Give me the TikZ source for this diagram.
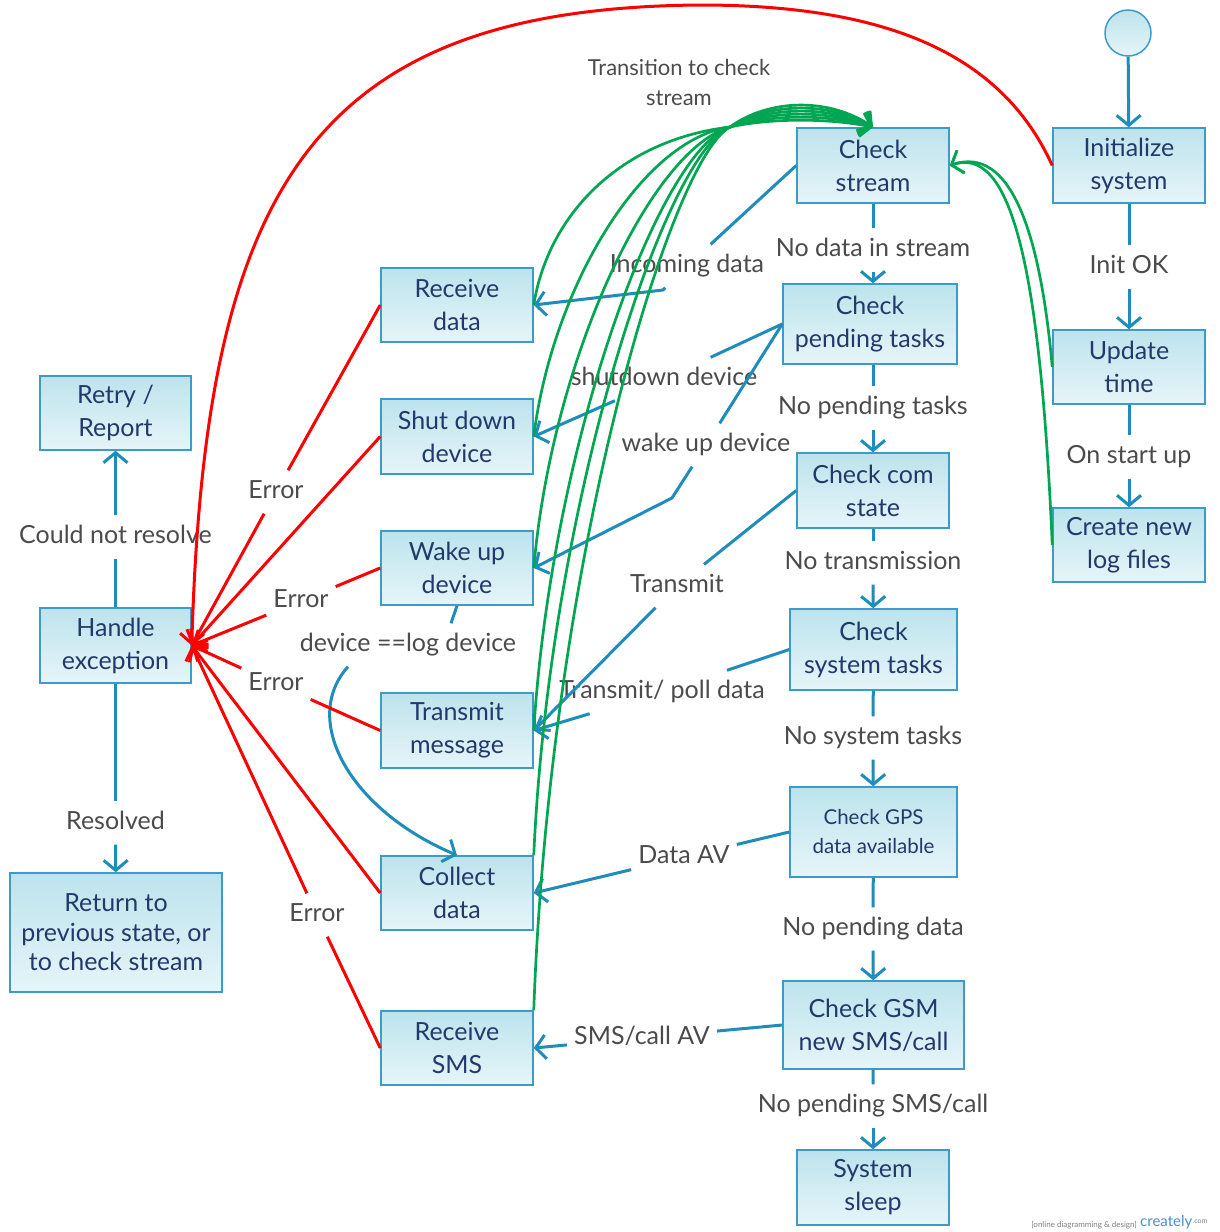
\documentclass[tikz,border=0pt]{standalone}
\usepackage{fontspec}
\setmainfont{Lato}
\usetikzlibrary{arrows.meta}

\definecolor{boxline}{HTML}{3C9BC7}
\definecolor{flow}{HTML}{1F8DBC}
\definecolor{boxtop}{HTML}{BDE3EC}
\definecolor{boxbot}{HTML}{E6F5F9}
\definecolor{nodetext}{HTML}{23396C}
\definecolor{labeltext}{HTML}{4B4B4B}
\definecolor{errred}{HTML}{FF0000}
\definecolor{backgreen}{HTML}{00A651}
\definecolor{brandblue}{HTML}{4A90D0}

\tikzset{
  state/.style={draw=boxline, line width=1.5pt, top color=boxtop, bottom color=boxbot,
    text=nodetext, align=center, inner sep=0pt, font=\fontsize{25}{33}\selectfont},
  elab/.style={text=labeltext, font=\fontsize{25}{29}\selectfont,
    inner xsep=7pt, inner ysep=10pt, text height=18pt, text depth=5pt},
  flowline/.style={draw=flow, line width=3pt},
  flowarrow/.style={flowline, -{Straight Barb[length=10pt,width=24pt]}},
  errline/.style={draw=errred, line width=3pt},
  errarrow/.style={errline, -{Straight Barb[length=10pt,width=24pt]}},
  backarrow/.style={draw=backgreen, line width=2.7pt, -{Straight Barb[length=10pt,width=24pt]}},
}

\begin{document}
\begin{tikzpicture}[x=1pt,y=-1pt]
\fill[white, use as bounding box] (0,0) rectangle (1219,1232);

% start point and initialisation chain
\node[circle, draw=boxline, line width=1.5pt, top color=boxtop, bottom color=boxbot,
      minimum size=46pt, inner sep=0pt] (start) at (1128,33) {};
\node[state, minimum width=152pt, minimum height=75pt] (init) at (1129,165.5) {Initialize\\system};
\node[state, minimum width=152pt, minimum height=74pt] (upd) at (1129,367) {Update\\time};
\node[state, minimum width=152pt, minimum height=74pt] (logs) at (1129,545) {Create new\\log files};

% main polling loop
\node[state, minimum width=152pt, minimum height=75pt] (cs) at (873,165.5) {Check\\stream};
\node[state, minimum width=174pt, minimum height=80pt] (cpt) at (870,324) {Check\\pending tasks};
\node[state, minimum width=152pt, minimum height=75pt] (ccs) at (873,490.5) {Check com\\state};
\node[state, minimum width=167pt, minimum height=81pt] (cst) at (873.5,649.5) {Check\\system tasks};
\node[state, minimum width=167pt, minimum height=90pt, font=\fontsize{20.5}{29}\selectfont] (gps) at (873.5,832) {Check GPS\\data available};
\node[state, minimum width=181pt, minimum height=88pt] (gsm) at (873.5,1025) {Check GSM\\new SMS/call};
\node[state, minimum width=152pt, minimum height=75pt] (sleep) at (873,1187.5) {System\\sleep};

% actions
\node[state, minimum width=152pt, minimum height=74pt] (rd) at (457,305) {Receive\\data};
\node[state, minimum width=152pt, minimum height=75pt] (sd) at (457,436.5) {Shut down\\device};
\node[state, minimum width=152pt, minimum height=74pt] (wu) at (457,568) {Wake up\\device};
\node[state, minimum width=152pt, minimum height=75pt] (tm) at (457,730.5) {Transmit\\message};
\node[state, minimum width=152pt, minimum height=74pt] (co) at (457,893) {Collect\\data};
\node[state, minimum width=152pt, minimum height=74pt] (rs) at (457,1048) {Receive\\SMS};

% exception handling
\node[state, minimum width=151pt, minimum height=74pt] (retry) at (115.5,413) {Retry /\\Report};
\node[state, minimum width=151pt, minimum height=75pt] (he) at (115.5,645.5) {Handle\\exception};
\node[state, minimum width=212pt, minimum height=119pt, font=\fontsize{25}{29.5}\selectfont] (ret) at (116,932.5) {Return to\\previous state, or\\to check stream};

% connector labels
\node[elab] (lInit) at (1129,267) {Init OK};
\node[elab] (lStart) at (1129,457) {On start up};
\node[elab] (lNoData) at (873,250) {No data in stream};
\node[elab] (lNoPend) at (873,408) {No pending tasks};
\node[elab] (lNoTx) at (873,563) {No transmission};
\node[elab] (lNoSys) at (873,738) {No system tasks};
\node[elab] (lNoPD) at (873,929) {No pending data};
\node[elab] (lNoSMS) at (873,1106) {No pending SMS/call};
\node[elab] (lIncoming) at (687,266) {Incoming data};
\node[elab] (lShut) at (664,379) {shutdown device};
\node[elab] (lWake) at (706,445) {wake up device};
\node[elab] (lTx) at (677,586) {Transmit};
\node[elab] (lPoll) at (662,692) {Transmit/ poll data};
\node[elab] (lData) at (684,857) {Data AV};
\node[elab] (lSMS) at (642,1038) {SMS/call AV};
\node[elab] (lLog) at (408,645) {device ==log device};
\node[elab] (lCould) at (115.5,537) {Could not resolve};
\node[elab] (lRes) at (115.5,823) {Resolved};
\node[elab] (e1) at (276,492) {Error};
\node[elab] (e2) at (301,601) {Error};
\node[elab] (e3) at (276,684) {Error};
\node[elab] (e4) at (317,915) {Error};
\node[text=labeltext, font=\fontsize{22}{30}\selectfont, align=center] (lTrans) at (679,82) {Transition to check\\stream};

% initialisation flow
\draw[flowarrow] (start) -- (init);
\draw[flowline] (init) -- (lInit);  \draw[flowarrow] (lInit) -- (upd);
\draw[flowline] (upd) -- (lStart);  \draw[flowarrow] (lStart) -- (logs);

% polling loop flow
\draw[flowline] (cs) -- (lNoData);  \draw[flowarrow] (lNoData) -- (lNoData |- cpt.north);
\draw[flowline] (lNoPend |- cpt.south) -- (lNoPend);  \draw[flowarrow] (lNoPend) -- (ccs);
\draw[flowline] (ccs) -- (lNoTx);   \draw[flowarrow] (lNoTx) -- (cst);
\draw[flowline] (cst) -- (lNoSys);  \draw[flowarrow] (lNoSys) -- (gps);
\draw[flowline] (gps) -- (lNoPD);   \draw[flowarrow] (lNoPD) -- (gsm);
\draw[flowline] (gsm) -- (lNoSMS);  \draw[flowarrow] (lNoSMS) -- (sleep);

% branches to the actions
\coordinate (kIn) at (663,290);
\coordinate (kWake) at (672,498);
\draw[flowline] (cs.west) -- (lIncoming);  \draw[flowarrow] (lIncoming) -- (kIn) -- (rd.east);
\draw[flowline] (cpt.west) -- (lShut);     \draw[flowarrow] (lShut) -- (sd.east);
\draw[flowline] (cpt.west) -- (lWake);     \draw[flowarrow] (lWake) -- (kWake) -- (wu.east);
\draw[flowline] (ccs.west) -- (lTx);       \draw[flowarrow] (lTx) -- (tm.east);
\draw[flowline] (cst.west) -- (lPoll);     \draw[flowarrow] (lPoll) -- (tm.east);
\draw[flowline] (gps.west) -- (lData);     \draw[flowarrow] (lData) -- (co.east);
\draw[flowline] (gsm.west) -- (lSMS);      \draw[flowarrow] (lSMS) -- (rs.east);
\draw[flowline] (wu.south) -- ([xshift=-6pt]wu.south |- lLog.north);
\draw[flowarrow] ([xshift=-60pt]lLog.south) .. controls (300,720) and (350,810) .. (co.north);

% exception outcomes
\draw[flowline] (he) -- (lCould);  \draw[flowarrow] (lCould) -- (retry);
\draw[flowline] (he) -- (lRes);    \draw[flowarrow] (lRes) -- (ret);

% error transitions
\draw[errline] (rd.west) -- (e1);  \draw[errarrow] (e1) -- (he.east);
\draw[errarrow] (sd.west) -- (he.east);
\draw[errline] (wu.west) -- (e2);  \draw[errarrow] (e2) -- (he.east);
\draw[errline] (tm.west) -- (e3);  \draw[errarrow] (e3) -- (he.east);
\draw[errarrow] (co.west) -- (he.east);
\draw[errline] (rs.west) -- (e4);  \draw[errarrow] (e4) -- (he.east);
\coordinate (arcTop) at (700,5);
\draw[errarrow] (init.west) .. controls (1000,50) and (880,5) .. (arcTop)
                            .. controls (310,8) and (205,190) .. (he.east);

% returns to the stream check
\coordinate (hub) at (730,127);
\draw[backarrow] (rd.east)       .. controls (548,215) and (620,140) .. (hub) .. controls (770,98) and (830,98) .. (cs.north);
\draw[backarrow] (sd.east)       .. controls (552,290) and (640,140) .. (hub) .. controls (770,102) and (830,102) .. (cs.north);
\draw[backarrow] (wu.east)       .. controls (552,360) and (650,150) .. (hub) .. controls (770,106) and (830,106) .. (cs.north);
\draw[backarrow] (tm.east)       .. controls (552,440) and (660,150) .. (hub) .. controls (770,110) and (830,110) .. (cs.north);
\draw[backarrow] (co.north east) .. controls (550,500) and (665,155) .. (hub) .. controls (770,114) and (830,114) .. (cs.north);
\draw[backarrow] (rs.north east) .. controls (550,560) and (670,160) .. (hub) .. controls (770,118) and (830,118) .. (cs.north);
\draw[backarrow] (upd.west)  .. controls (1040,230) and (1010,145) .. (cs.east);
\draw[backarrow] (logs.west) .. controls (1040,260) and (1010,145) .. (cs.east);

% footer mark
\node[anchor=east, text=gray, font=\fontsize{8}{9}\selectfont, inner sep=0pt] (wmA) at (1137,1225) {[online diagramming \& design]};
\node[anchor=west, text=brandblue, font=\fontsize{15}{15}\selectfont, inner sep=0pt] (wmB) at (1140,1222) {creately};
\node[anchor=west, text=gray, font=\fontsize{7}{8}\selectfont, inner sep=0pt] (wmC) at (wmB.east) {.com};
\end{tikzpicture}
\end{document}
